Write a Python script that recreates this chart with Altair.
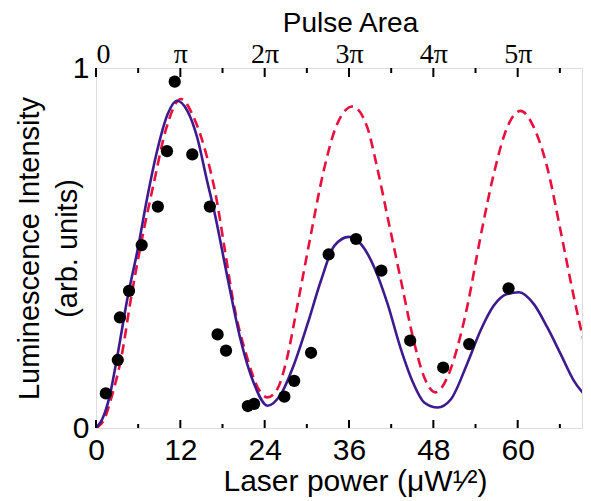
import json
import altair as alt
import pandas as pd

# ---- data ----
point_x = [1.4, 3.1, 3.4, 4.7, 6.5, 8.8, 10.1, 11.2, 13.7, 16.2, 17.3, 18.5,
           21.6, 22.5, 26.8, 28.2, 30.6, 33.1, 37.0, 40.6, 44.7, 49.4, 53.1, 58.7]
point_y = [0.096, 0.189, 0.307, 0.381, 0.508, 0.615, 0.769, 0.962, 0.760, 0.615, 0.260, 0.215,
           0.061, 0.067, 0.087, 0.131, 0.209, 0.482, 0.525, 0.437, 0.243, 0.168, 0.233, 0.388]

fit_x = [0, 0.9, 1.9, 3.0, 4.5, 5.9, 7.3, 8.7, 10.2, 11.5, 13.0, 14.4, 15.8, 16.8, 18.7,
         20.6, 22.5, 24.4, 26.3, 28.2, 30.1, 32.0, 33.9, 36.0, 37.7, 39.6, 41.5, 43.3,
         45.2, 46.7, 48.6, 50.5, 52.8, 54.7, 56.6, 58.5, 60.2, 62.3, 64.2, 66.1, 68.0, 70.0]
fit_y = [0, 0.025, 0.085, 0.196, 0.363, 0.493, 0.641, 0.770, 0.872, 0.909, 0.881, 0.807,
         0.687, 0.604, 0.419, 0.243, 0.122, 0.062, 0.094, 0.178, 0.289, 0.409, 0.506, 0.531,
         0.511, 0.446, 0.344, 0.224, 0.122, 0.071, 0.057, 0.080, 0.178, 0.270, 0.340, 0.372,
         0.377, 0.344, 0.280, 0.206, 0.131, 0.082]

ideal_x = [0, 1.2, 2.2, 3.6, 5.0, 6.4, 8.3, 9.9, 12.1, 13.9, 15.8, 17.1, 18.2, 19.6, 21.5,
           23.0, 24.4, 25.8, 27.2, 28.6, 30.5, 32.4, 34.3, 36.5, 38.6, 40.0, 41.5, 43.4,
           45.2, 46.7, 48.3, 50.0, 51.8, 52.8, 54.7, 56.6, 58.5, 60.4, 62.3, 64.2, 66.1,
           68.0, 70.0]
ideal_y = [0, 0.025, 0.085, 0.196, 0.363, 0.511, 0.687, 0.826, 0.914, 0.863, 0.752, 0.641,
           0.511, 0.344, 0.196, 0.113, 0.085, 0.108, 0.196, 0.335, 0.530, 0.715, 0.844,
           0.893, 0.835, 0.724, 0.585, 0.409, 0.243, 0.141, 0.099, 0.141, 0.252, 0.335,
           0.530, 0.706, 0.835, 0.881, 0.835, 0.724, 0.548, 0.363, 0.190]

major_ticks = [0, 12, 24, 36, 48, 60]
minor_ticks = [6, 18, 30, 42, 54, 66]
pulse_labels = ["0", "π", "2π", "3π", "4π", "5π"]
y_ticks = [0, 1]
x_max = 69.15

W, H = 486, 360
PURPLE = "#3d1a8e"
RED = "#e8103c"

pts = pd.DataFrame({"x": point_x, "y": point_y})
fit = pd.DataFrame({"x": fit_x, "y": fit_y})
ideal = pd.DataFrame({"x": ideal_x, "y": ideal_y})
maj = pd.DataFrame({"t": major_ticks})
mnr = pd.DataFrame({"t": minor_ticks})

xs = alt.Scale(domain=[0, x_max], nice=False, zero=False)
ys = alt.Scale(domain=[0, 1], nice=False)

bottom_axis = alt.Axis(orient="bottom", values=major_ticks, ticks=False, tickSize=0,
                       domain=False, grid=False, labelFont="Liberation Sans",
                       labelFontSize=30, labelPadding=31, labelBaseline="alphabetic",
                       labelFlush=False, labelColor="black",
                       title="Laser power (μW¹⁄²)", titleFont="Liberation Sans",
                       titleFontSize=30, titleFontWeight="normal", titleColor="black",
                       titleX=259, titleY=62, titleBaseline="alphabetic", titleAlign="center")

top_expr = json.dumps(pulse_labels) + "[round(datum.value/12)]"
top_axis = alt.Axis(orient="top", values=major_ticks, labelExpr=top_expr, ticks=False,
                    tickSize=0, domain=False, grid=False, labelFont="Liberation Serif",
                    labelFontSize=28, labelPadding=6, labelBaseline="alphabetic",
                    labelFlush=True, labelColor="black",
                    title="Pulse Area", titleFont="Liberation Sans", titleFontSize=28,
                    titleFontWeight="normal", titleColor="black", titleX=254, titleY=-37,
                    titleBaseline="alphabetic", titleAlign="center")

left_axis = alt.Axis(orient="left", values=y_ticks, format="d", ticks=False, tickSize=0,
                     domain=False, grid=False, labelFont="Liberation Sans", labelFontSize=30,
                     labelPadding=7, labelBaseline="middle", labelFlush=False,
                     labelColor="black",
                     title=["Luminescence Intensity", "(arb. units)"],
                     titleFont="Liberation Sans", titleFontSize=29, titleLineHeight=38,
                     titleFontWeight="normal", titleColor="black", titleAngle=270,
                     titleX=-67, titleY=180, titleAlign="center", titleBaseline="middle")

ideal_line = alt.Chart(ideal).mark_line(color=RED, strokeWidth=2.6, strokeDash=[10, 6],
                                        interpolate="monotone", clip=True).encode(
    x=alt.X("x:Q", scale=xs, axis=bottom_axis),
    y=alt.Y("y:Q", scale=ys, axis=left_axis),
)

fit_line = alt.Chart(fit).mark_line(color=PURPLE, strokeWidth=2.6,
                                    interpolate="monotone", clip=True).encode(
    x=alt.X("x:Q", scale=xs, axis=None),
    y=alt.Y("y:Q", scale=ys, axis=None),
)

dots = alt.Chart(pts).mark_circle(color="black", size=150, opacity=1).encode(
    x=alt.X("x:Q", scale=xs, axis=None),
    y=alt.Y("y:Q", scale=ys, axis=None),
)

tick_top_major = alt.Chart(maj).mark_rule(color="black", strokeWidth=2).encode(
    x=alt.X("t:Q", scale=xs, axis=top_axis),
    y=alt.value(0), y2=alt.value(9),
)
tick_bot_major = alt.Chart(maj).mark_rule(color="black", strokeWidth=2).encode(
    x=alt.X("t:Q", scale=xs, axis=None),
    y=alt.value(H), y2=alt.value(H - 8),
)
tick_top_minor = alt.Chart(mnr).mark_rule(color="black", strokeWidth=2).encode(
    x=alt.X("t:Q", scale=xs, axis=None),
    y=alt.value(0), y2=alt.value(5),
)
tick_bot_minor = alt.Chart(mnr).mark_rule(color="black", strokeWidth=2).encode(
    x=alt.X("t:Q", scale=xs, axis=None),
    y=alt.value(H), y2=alt.value(H - 4),
)

chart = alt.layer(
    ideal_line, fit_line, dots,
    tick_top_major, tick_bot_major, tick_top_minor, tick_bot_minor,
).resolve_scale(x="shared", y="shared").resolve_axis(
    x="independent", y="independent"
).properties(
    width=W, height=H,
    autosize=alt.AutoSizeParams(type="none"),
    padding={"left": 88, "top": 60, "right": 1, "bottom": 73},
).configure_view(stroke="black", strokeWidth=2).configure(background="white")

chart.save("out.html", embed_options={"renderer": "svg", "actions": False})
